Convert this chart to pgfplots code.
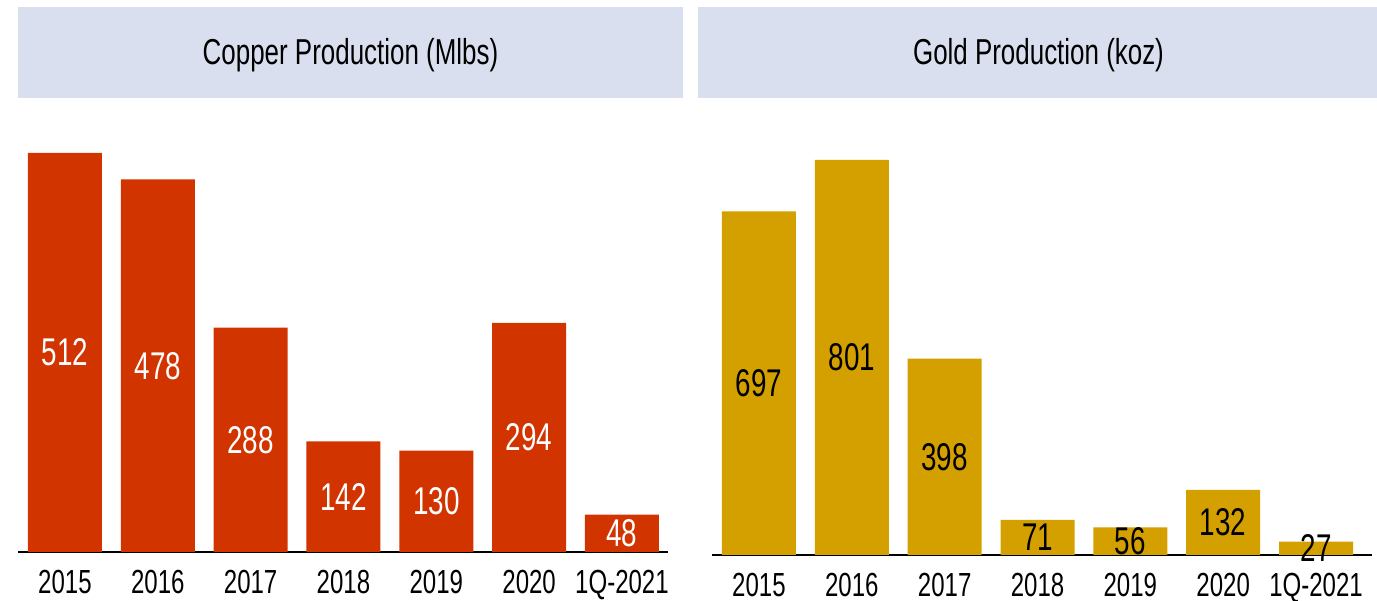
\documentclass[border=0pt]{standalone}
\usepackage{fontspec}
\setmainfont{Liberation Sans}[FakeStretch=0.72]
\usepackage{pgfplots}
\pgfplotsset{compat=1.18}

\definecolor{copper}{HTML}{D23400}
\definecolor{gold}{HTML}{D4A000}
\definecolor{hdr}{HTML}{D9DFEF}

\pgfplotsset{prodbars/.style={
  scale only axis, anchor=south west,
  ybar, bar width=1.48cm, bar shift=0pt,
  ymin=0, xmin=-0.506,
  axis x line*=bottom, axis y line=none,
  x axis line style={-, line width=1.2pt, black},
  xtick={0,...,6},
  xticklabels={2015,2016,2017,2018,2019,2020,1Q-2021},
  major tick length=0pt,
  xticklabel style={font=\fontsize{19}{19}\selectfont, anchor=north, yshift=-0.24cm},
  /pgf/number format/assume math mode=true,
  nodes near coords,
  visualization depends on={y \as \rawy},
  clip=false,
}}

\begin{document}
\begin{tikzpicture}
\path[use as bounding box] (0,0) rectangle (27.54,12.02);

% header boxes
\fill[hdr] (0.36,10.06) rectangle (13.66,11.88);
\node[font=\fontsize{20.5}{20.5}\selectfont] at (7.01,10.92) {Copper Production (Mlbs)};
\fill[hdr] (13.96,10.06) rectangle (27.54,11.88);
\node[font=\fontsize{20.5}{20.5}\selectfont] at (20.77,10.92) {Gold Production (koz)};

% copper
\begin{axis}[prodbars, at={(0.36cm,0.98cm)}, width=13.0cm, height=8.84cm,
  xmax=6.496, ymax=567.2,
  every node near coord/.append style={font=\fontsize{22}{22}\selectfont,
    text=white, anchor=center, yshift={-\rawy*0.0077925cm}}]
\addplot[fill=copper, draw=none] coordinates {
  (0,512) (1,478) (2,288) (3,142) (4,130) (5,294) (6,48)
};
\end{axis}

% gold
\begin{axis}[prodbars, at={(14.24cm,0.92cm)}, width=13.2cm, height=8.9cm,
  xmax=6.603, ymax=902.4,
  every node near coord/.append style={font=\fontsize{22}{22}\selectfont,
    text=black, anchor=center, yshift={-\rawy*0.0049313cm}}]
\addplot[fill=gold, draw=none] coordinates {
  (0,697) (1,801) (2,398) (3,71) (4,56) (5,132) (6,27)
};
\end{axis}
\end{tikzpicture}
\end{document}
